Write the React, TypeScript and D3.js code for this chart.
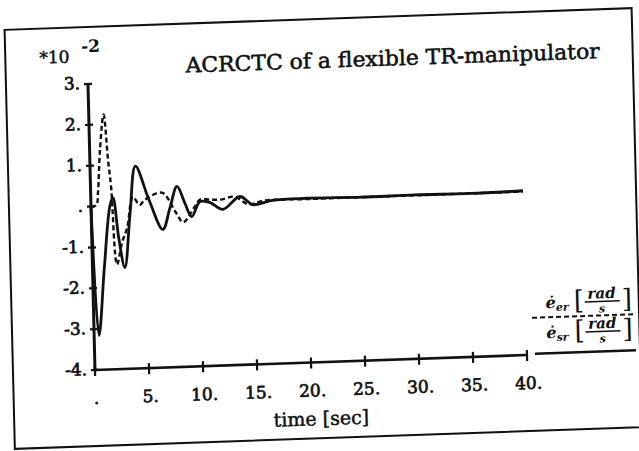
import React, { useEffect, useRef } from 'react';
import * as d3 from 'd3';

// readings taken from the scanned plot (values in units of 10^-2)
const solidT = [0, 0.45, 1.1, 1.75, 2.05, 2.5, 3.0, 3.6, 4.2, 5.4, 6.6, 7.3, 8.0, 8.7, 9.3, 10.1, 11, 12.2, 13.8, 15.0, 16.8, 20, 25, 30, 35, 40];
const solidV = [0, -3.16, -1.5, 0, 0.2, -0.8, -1.52, -0.2, 0.95, 0.1, -0.62, -0.1, 0.42, 0, -0.33, 0.03, 0, -0.18, 0.12, -0.09, 0, 0.02, 0, 0.01, 0, 0.02];

const dashedT = [0, 0.5, 0.68, 0.96, 1.37, 1.68, 1.9, 2.28, 2.8, 3.3, 3.9, 4.5, 5.0, 6.6, 7.8, 8.5, 9.6, 10.1, 11, 12, 13.3, 14.6, 16, 20, 25, 30, 35, 40];
const dashedV = [0, 0.03, 0.34, 1.38, 2.24, 1.13, 0.48, -1.44, -0.9, -0.55, 0.2, 0.0, 0.12, 0.28, -0.2, -0.46, -0.09, 0.08, 0.07, 0.06, 0.12, -0.08, 0, 0, 0, 0, 0, 0];

const xTicks = [0, 5, 10, 15, 20, 25, 30, 35, 40];
const xTickLabels = ['.', '5.', '10.', '15.', '20.', '25.', '30.', '35.', '40.'];
const yTicks = [3, 2, 1, 0, -1, -2, -3, -4];
const yTickLabels = ['3.', '2.', '1.', '.', '-1.', '-2.', '-3.', '-4.'];

const title = 'ACRCTC of a flexible TR-manipulator';
const xTitle = 'time [sec]';
const legendSubs = ['er', 'sr'];

const SERIF = '"DejaVu Serif", serif';

const App = () => {
  const ref = useRef(null);

  useEffect(() => {
    const root = d3.select(ref.current);
    root.selectAll('*').remove();

    // the page is a slightly tilted scan
    const g = root.append('g').attr('transform', 'matrix(1,-0.0347,0.0245,1,-9.07,3.30)');

    const x = d3.scaleLinear().domain([0, 40]).range([95, 527]);
    const y = d3.scaleLinear().domain([-4, 3]).range([370, 84]);

    // scanned print looks heavier than the regular face
    const ink = (sel, w) => sel.attr('fill', '#111').attr('stroke', '#111').attr('stroke-width', w);

    // frame
    g.append('rect')
      .attr('x', 13).attr('y', 27).attr('width', 627).attr('height', 419)
      .attr('fill', 'none').attr('stroke', '#111').attr('stroke-width', 2);

    // axes
    g.append('line')
      .attr('x1', x(0)).attr('x2', x(40)).attr('y1', y(-4)).attr('y2', y(-4))
      .attr('stroke', '#111').attr('stroke-width', 2.6);
    g.append('line')
      .attr('x1', x(0)).attr('x2', x(0)).attr('y1', y(-4)).attr('y2', y(3))
      .attr('stroke', '#111').attr('stroke-width', 3);

    g.selectAll('.xt').data(xTicks).enter().append('line')
      .attr('x1', (d) => x(d)).attr('x2', (d) => x(d))
      .attr('y1', y(-4) - 5).attr('y2', y(-4) + 6)
      .attr('stroke', '#111').attr('stroke-width', 2.2);
    g.selectAll('.yt').data(yTicks).enter().append('line')
      .attr('x1', x(0) - 4).attr('x2', x(0) + 4)
      .attr('y1', (d) => y(d)).attr('y2', (d) => y(d))
      .attr('stroke', '#111').attr('stroke-width', 2.2);

    ink(g.selectAll('.xl').data(xTicks).enter().append('text')
      .attr('x', (d) => x(d) + 1).attr('y', 404)
      .attr('text-anchor', 'middle')
      .attr('font-family', SERIF).attr('font-size', 17)
      .text((d, i) => xTickLabels[i]), 0.7);
    ink(g.selectAll('.yl').data(yTicks).enter().append('text')
      .attr('x', x(0) - 8).attr('y', (d) => y(d) + 5)
      .attr('text-anchor', 'end')
      .attr('font-family', SERIF).attr('font-size', 17)
      .text((d, i) => yTickLabels[i]), 0.7);

    // scale factor
    ink(g.append('text').attr('x', 47).attr('y', 62)
      .attr('font-family', SERIF).attr('font-size', 17).text('*10'), 0.5);
    g.append('text').attr('x', 89).attr('y', 52)
      .attr('font-family', SERIF).attr('font-size', 17).attr('font-weight', 'bold').attr('fill', '#111').text('-2');

    ink(g.append('text').attr('x', 193).attr('y', 76)
      .attr('font-family', SERIF).attr('font-size', 21)
      .attr('textLength', 414).attr('lengthAdjust', 'spacingAndGlyphs').text(title), 0.55);

    ink(g.append('text').attr('x', 320).attr('y', 433).attr('text-anchor', 'middle')
      .attr('font-family', SERIF).attr('font-size', 19).text(xTitle), 0.5);

    // curves
    const line = d3.line()
      .x((d) => x(d[0]))
      .y((d) => y(d[1]))
      .curve(d3.curveCatmullRom.alpha(0.5));

    const solid = solidT.map((t, i) => [t, solidV[i]]);
    const dashed = dashedT.map((t, i) => [t, dashedV[i]]);

    g.append('path').datum(dashed).attr('d', line)
      .attr('fill', 'none').attr('stroke', '#111').attr('stroke-width', 2.4)
      .attr('stroke-dasharray', '5,3');
    g.append('path').datum(solid).attr('d', line)
      .attr('fill', 'none').attr('stroke', '#111').attr('stroke-width', 2.8);

    // legend
    legendSubs.forEach((sub, i) => {
      const oy = i * 30;
      const lg = g.append('g').attr('font-family', SERIF).attr('fill', '#111');
      lg.append('text').attr('x', 547).attr('y', 324 + oy)
        .attr('font-size', 16).attr('font-weight', 'bold').attr('font-style', 'italic').text('ė');
      lg.append('text').attr('x', 557).attr('y', 327 + oy)
        .attr('font-size', 11).attr('font-weight', 'bold').attr('font-style', 'italic').text(sub);
      lg.append('text').attr('x', 575).attr('y', 326 + oy).attr('font-size', 26).text('[');
      lg.append('text').attr('x', 603).attr('y', 316 + oy).attr('text-anchor', 'middle')
        .attr('font-size', 15).attr('font-weight', 'bold').attr('font-style', 'italic').text('rad');
      lg.append('line').attr('x1', 586).attr('x2', 621).attr('y1', 319 + oy).attr('y2', 319 + oy)
        .attr('stroke', '#111').attr('stroke-width', 1.5);
      lg.append('text').attr('x', 603).attr('y', 330 + oy).attr('text-anchor', 'middle')
        .attr('font-size', 11).attr('font-weight', 'bold').attr('font-style', 'italic').text('s');
      lg.append('text').attr('x', 623).attr('y', 326 + oy).attr('font-size', 26).text(']');
    });
    g.append('line').attr('x1', 533).attr('x2', 634).attr('y1', 333).attr('y2', 333)
      .attr('stroke', '#111').attr('stroke-width', 2).attr('stroke-dasharray', '5,3');
    g.append('line').attr('x1', 535).attr('x2', 636).attr('y1', 369).attr('y2', 369)
      .attr('stroke', '#111').attr('stroke-width', 2.4);
  }, []);

  return (
    <svg
      ref={ref}
      width={639}
      height={451}
      style={{ position: 'absolute', left: 0, top: 0, background: '#fff' }}
    />
  );
};

export default App;
